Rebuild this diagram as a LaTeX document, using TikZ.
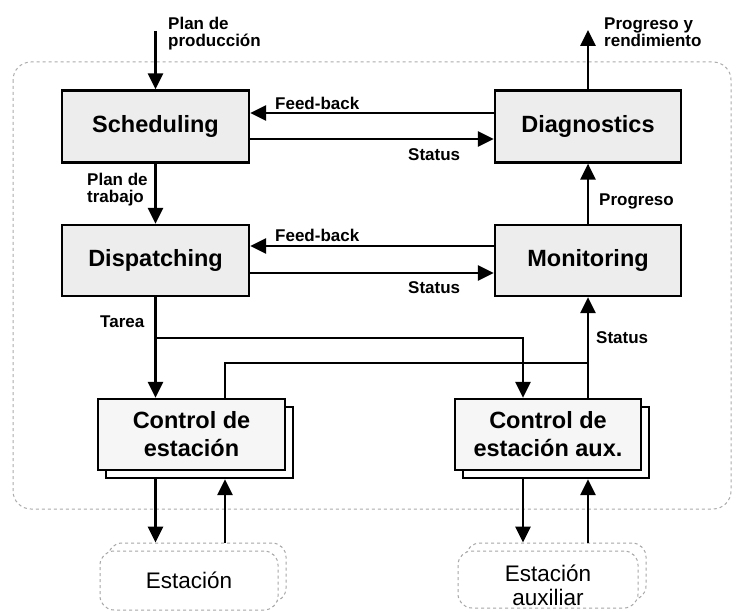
\documentclass[tikz,border=0pt]{standalone}
\usepackage{fontspec}
\setmainfont{Liberation Sans}
\usetikzlibrary{arrows.meta,calc}
\begin{document}
\begin{tikzpicture}[x=1pt,y=-1pt,
  box/.style={draw=black, line width=2.2pt, fill=gray!14, inner sep=0pt, align=center,
    font=\fontsize{23.5}{28}\selectfont\bfseries},
  ctrlbox/.style={box, fill=gray!7},
  backbox/.style={draw=black, line width=2.2pt, fill=white, inner sep=0pt},
  stbox/.style={draw=gray!70, dashed, line width=1pt, rounded corners=14pt, fill=white, inner sep=0pt, align=center,
    font=\fontsize{22.5}{24}\selectfont},
  lbl/.style={inner sep=0pt, align=left, font=\fontsize{17}{17}\selectfont\bfseries},
  ln/.style={line width=2.8pt, draw=black},
  arr/.style={ln, -{Triangle[length=16pt,width=15pt]}}
]
\useasboundingbox (0,0) rectangle (736,612);
\fill[white] (0,0) rectangle (736,612);

% outer dashed frame
\draw[gray!65, dashed, line width=1pt, rounded corners=18pt] (13,62) rectangle (731,509);

% main boxes
\node[box, minimum width=187pt, minimum height=72pt] (sched) at (155.5,126.5) {Scheduling};
\node[box, minimum width=187pt, minimum height=71pt] (disp) at (155.5,260.5) {Dispatching};
\node[box, minimum width=186pt, minimum height=72pt] (diag) at (588,126.5) {Diagnostics};
\node[box, minimum width=186pt, minimum height=71pt] (mon) at (588,260.5) {Monitoring};

% control boxes with shadow copies
\node[backbox, minimum width=187pt, minimum height=71pt] (c1b) at (199.5,442.5) {};
\node[ctrlbox, minimum width=187pt, minimum height=71pt] (c1) at (191.5,434.5) {Control de\\estación};
\node[backbox, minimum width=186pt, minimum height=71pt] (c2b) at (556,442.5) {};
\node[ctrlbox, minimum width=186pt, minimum height=71pt] (c2) at (548,434.5) {Control de\\estación aux.};

% stations
\node[stbox, minimum width=178pt, minimum height=59pt] (e1b) at (197,572.5) {};
\node[stbox, minimum width=178pt, minimum height=59pt] (e1) at (189,580.5) {Estación};
\node[stbox, minimum width=180pt, minimum height=57pt] (e2b) at (556,571.5) {};
\node[stbox, minimum width=180pt, minimum height=57pt] (e2) at (548,579.5) {};
\node[inner sep=0pt, align=center, font=\fontsize{22.5}{24}\selectfont] (e2t) at (548,585) {Estación\\auxiliar};

% helper coordinates
\coordinate (pin) at (155.5,31);
\coordinate (out) at (588,30);
\coordinate (tj) at (0,338);
\coordinate (st) at (0,363);
\coordinate (s1) at ($(c1.north)+(33.5,0)$);
\coordinate (s2) at ($(c2.north)+(40,0)$);
\coordinate (t2) at ($(c2.north)+(-25,0)$);

% connectors
\draw[arr] (pin) -- (sched.north);
\draw[arr] (diag.north) -- (out);
\draw[arr] ([yshift=13.5pt]diag.west) -- ([yshift=13.5pt]sched.east);
\draw[arr] ([yshift=-12.5pt]sched.east) -- ([yshift=-12.5pt]diag.west);
\draw[arr] (sched.south) -- (disp.north);
\draw[arr] (mon.north) -- (diag.south);
\draw[arr] ([yshift=14.5pt]mon.west) -- ([yshift=14.5pt]disp.east);
\draw[arr] ([yshift=-12.5pt]disp.east) -- ([yshift=-12.5pt]mon.west);
\draw[arr] (disp.south) -- (disp.south |- c1.north);
\draw[arr] (disp.south |- tj) -| (t2);
\draw[ln] (s1) |- (mon.south |- st);
\draw[arr] (s2) -- (mon.south);
\draw[arr] (disp.south |- c1b.south) -- (disp.south |- e1b.north);
\draw[arr] (s1 |- e1b.north) -- (s1 |- c1b.south);
\draw[arr] (t2 |- c2b.south) -- (t2 |- e2b.north);
\draw[arr] (s2 |- e2b.north) -- (s2 |- c2b.south);

% labels
\node[lbl, anchor=west] (lpp) at (168,34) {Plan de\\producción};
\node[lbl, anchor=west] (lpr) at (604,32) {Progreso y\\rendimiento};
\node[lbl, anchor=west] (lfb1) at (275,103) {Feed-back};
\node[lbl, anchor=west] (lst1) at (408,155) {Status};
\node[lbl, anchor=west] (lpt) at (87,190) {Plan de\\trabajo};
\node[lbl, anchor=west] (lfb2) at (275,235) {Feed-back};
\node[lbl, anchor=west] (lst2) at (408,288) {Status};
\node[lbl, anchor=west] (lprog) at (599,201) {Progreso};
\node[lbl, anchor=west] (ltar) at (100,322) {Tarea};
\node[lbl, anchor=west] (lst3) at (596,338) {Status};
\end{tikzpicture}
\end{document}
